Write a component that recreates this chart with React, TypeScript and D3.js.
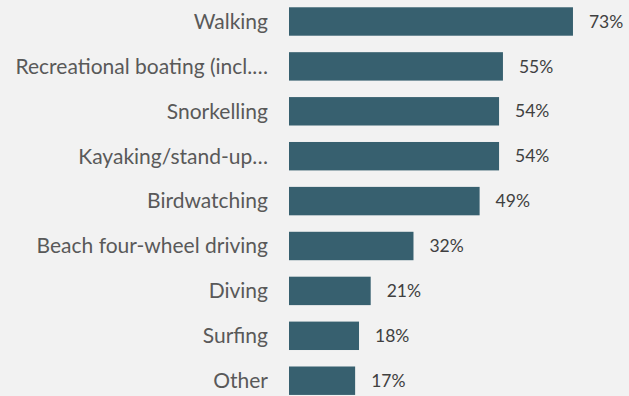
import * as d3 from "d3";
import React, { useEffect, useRef } from "react";

const activities = [
  "Walking",
  "Recreational boating (incl.…",
  "Snorkelling",
  "Kayaking/stand-up…",
  "Birdwatching",
  "Beach four-wheel driving",
  "Diving",
  "Surfing",
  "Other",
];
const shares = [73, 55, 54, 54, 49, 32, 21, 18, 17];

export default function App() {
  const ref = useRef<SVGSVGElement | null>(null);

  useEffect(() => {
    const width = 629,
      height = 396,
      left = 289;

    const svg = d3.select(ref.current);
    svg.selectAll("*").remove();

    svg.append("rect").attr("width", width).attr("height", height).attr("fill", "#f2f2f2");

    const x = d3.scaleLinear().domain([0, 100]).range([0, 389]);
    const y = d3.scaleBand<string>()
      .domain(activities)
      .range([-9.2, 411.4])
      .paddingInner(0.367)
      .paddingOuter(0.367);

    const rows = activities.map((a, i) => ({ name: a, value: shares[i] }));

    svg.selectAll("rect.bar")
      .data(rows)
      .join("rect")
      .attr("class", "bar")
      .attr("x", left)
      .attr("y", d => y(d.name)!)
      .attr("width", d => x(d.value))
      .attr("height", y.bandwidth())
      .attr("fill", "#37606f");

    svg.selectAll("text.cat")
      .data(rows)
      .join("text")
      .attr("class", "cat")
      .attr("x", left - 21)
      .attr("y", d => y(d.name)! + y.bandwidth() / 2)
      .attr("dy", "0.35em")
      .attr("text-anchor", "end")
      .attr("font-family", "Lato, sans-serif")
      .attr("font-size", 21)
      .attr("fill", "#595959")
      .text(d => d.name);

    svg.selectAll("text.val")
      .data(rows)
      .join("text")
      .attr("class", "val")
      .attr("x", d => left + x(d.value) + 16)
      .attr("y", d => y(d.name)! + y.bandwidth() / 2)
      .attr("dy", "0.35em")
      .attr("font-family", "Lato, sans-serif")
      .attr("font-size", 17.5)
      .attr("fill", "#404040")
      .text(d => d.value + "%");
  }, []);

  return (
    <svg ref={ref} width={629} height={396} style={{ position: "absolute", left: 0, top: 0 }} />
  );
}
